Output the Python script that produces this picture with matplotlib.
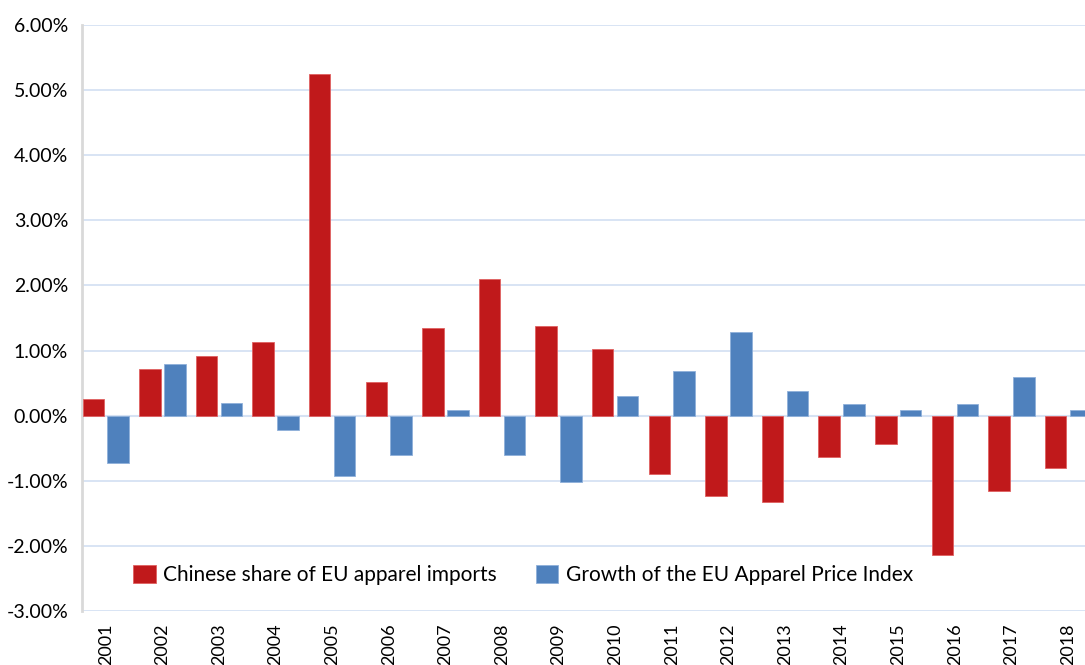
import matplotlib
matplotlib.use("Agg")
import matplotlib.pyplot as plt
import numpy as np
from matplotlib.ticker import FuncFormatter

plt.rcParams['font.family'] = ['Lato', 'DejaVu Sans']

years = ['2001', '2002', '2003', '2004', '2005', '2006', '2007', '2008', '2009',
         '2010', '2011', '2012', '2013', '2014', '2015', '2016', '2017', '2018']
# percent values
china_share = [0.25, 0.72, 0.92, 1.13, 5.25, 0.51, 1.35, 2.10, 1.38,
               1.02, -0.89, -1.24, -1.32, -0.63, -0.44, -2.14, -1.15, -0.81]
price_growth = [-0.72, 0.79, 0.19, -0.22, -0.92, -0.61, 0.08, -0.61, -1.02,
                0.30, 0.68, 1.28, 0.38, 0.18, 0.08, 0.18, 0.59, 0.08]

red = '#C0191B'
blue = '#4F81BD'
grid_col = '#D6E2F3'

fig = plt.figure(figsize=(10.85, 6.65), dpi=100)
ax = fig.add_axes([82/1085, 1 - 611/665, 1 - 82/1085, (611 - 25)/665])

x = np.arange(len(years))
w = 0.38
ax.bar(x - 0.22, china_share, w, color=red, edgecolor='#E06060', linewidth=0.6,
       label='Chinese share of EU apparel imports', zorder=3)
ax.bar(x + 0.22, price_growth, w, color=blue, edgecolor='#8FB0DA', linewidth=0.6,
       label='Growth of the EU Apparel Price Index', zorder=3)

ax.set_ylim(-3, 6)
ax.set_yticks(np.arange(-3, 7, 1))
ax.yaxis.set_major_formatter(FuncFormatter(lambda v, p: '%.2f%%' % v))
ax.set_xlim(-0.42, 17.3)
ax.set_xticks(x)
ax.set_xticklabels(years, rotation=90, va='top')

ax.grid(axis='y', color=grid_col, linewidth=1.3, zorder=0)
ax.axhline(0, color=grid_col, linewidth=1.5, zorder=1)
for s in ['top', 'right', 'bottom']:
    ax.spines[s].set_visible(False)
ax.spines['left'].set_color('#D9D9D9')
ax.spines['left'].set_linewidth(2)
ax.tick_params(axis='y', length=0, labelsize=14, colors='black', pad=10)
ax.tick_params(axis='x', length=0, labelsize=13, colors='black', pad=9)

ax.legend(loc='center left', bbox_to_anchor=(133/1085, 1 - 575/665),
          bbox_transform=fig.transFigure, ncol=2, frameon=False, fontsize=15,
          handlelength=1.1, handleheight=1.0, handletextpad=0.35,
          columnspacing=1.85, borderpad=0, borderaxespad=0)

fig.savefig('out.png', dpi=100)
